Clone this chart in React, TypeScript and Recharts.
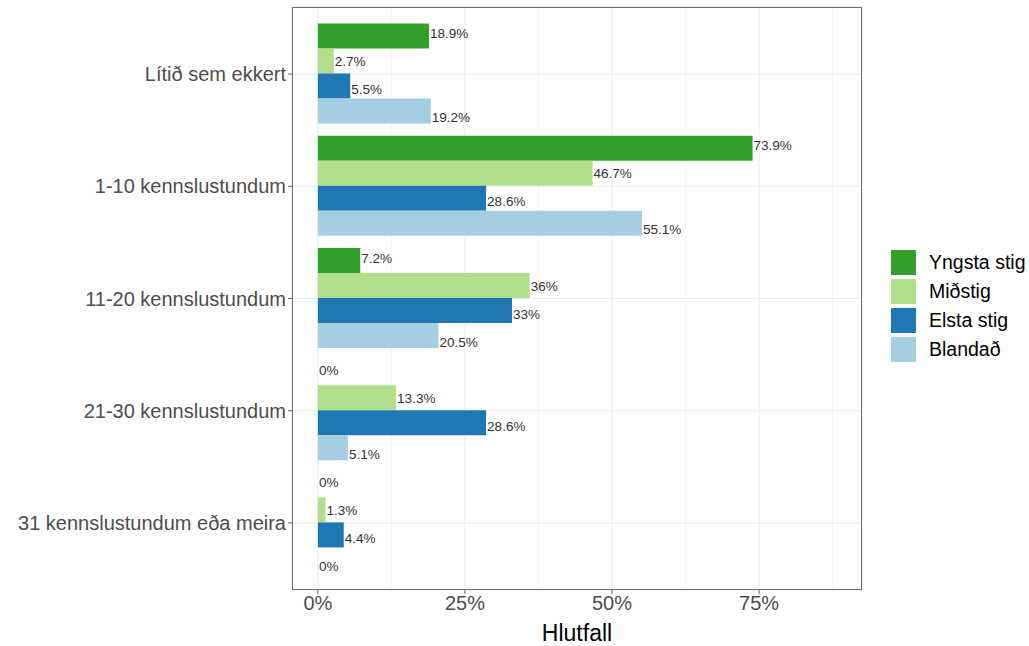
import { BarChart, Bar, XAxis, YAxis, CartesianGrid, LabelList } from "recharts";

const categories = [
  "Lítið sem ekkert",
  "1-10 kennslustundum",
  "11-20 kennslustundum",
  "21-30 kennslustundum",
  "31 kennslustundum eða meira",
];
const yngsta = [18.9, 73.9, 7.2, 0, 0];
const midstig = [2.7, 46.7, 36, 13.3, 1.3];
const elsta = [5.5, 28.6, 33, 28.6, 4.4];
const blandad = [19.2, 55.1, 20.5, 5.1, 0];
const xTicks = [0, 25, 50, 75];
const minorTicks = [12.5, 37.5, 62.5, 87.5];

const SERIES = [
  { key: "yngsta", name: "Yngsta stig", color: "#33a02c", values: yngsta },
  { key: "midstig", name: "Miðstig", color: "#b2df8a", values: midstig },
  { key: "elsta", name: "Elsta stig", color: "#1f78b4", values: elsta },
  { key: "blandad", name: "Blandað", color: "#a6cee3", values: blandad },
];

const data = categories.map((cat, i) => {
  const row: Record<string, string | number> = { cat };
  SERIES.forEach((s) => (row[s.key] = s.values[i]));
  return row;
});

const FONT = '"Liberation Sans", Arial, sans-serif';
const DOMAIN: [number, number] = [-4.4, 92.5];

// panel edges in page pixels
const PANEL = { left: 292, top: 7, right: 862, bottom: 590 };

// text labels are dodged a bit wider than the bars in the original
const labelFor = (idx: number) => (props: any) => {
  const { x, y, width, height, value } = props;
  const dy = 2 + (idx - 1.5) * 3;
  return (
    <text
      x={Number(x) + Number(width) + 1}
      y={Number(y) + Number(height) / 2 + dy}
      dominantBaseline="central"
      fontSize={13.5}
      fill="#333"
      fontFamily={FONT}
    >
      {`${value}%`}
    </text>
  );
};

export default function App() {
  return (
    <div style={{ position: "absolute", left: 0, top: 0, width: 1029, height: 646, fontFamily: FONT, background: "#fff" }}>
      <BarChart
        width={1029}
        height={646}
        data={data}
        layout="vertical"
        margin={{ top: PANEL.top, right: 1029 - PANEL.right, left: 0, bottom: 0 }}
        barCategoryGap="5%"
        barGap={0}
      >
        {/* minor grid first so it sits under the major one */}
        <CartesianGrid xAxisId="minor" horizontal={false} stroke="#f2f2f2" strokeWidth={0.7} />
        <CartesianGrid stroke="#ebebeb" strokeWidth={1.1} />
        <XAxis xAxisId="minor" type="number" domain={DOMAIN} ticks={minorTicks} allowDataOverflow hide />
        <XAxis
          type="number"
          domain={DOMAIN}
          ticks={xTicks}
          allowDataOverflow
          tickFormatter={(v) => `${v}%`}
          axisLine={false}
          tickLine={{ stroke: "#666" }}
          tickSize={4}
          tick={{ fontSize: 20, fill: "#4d4d4d", fontFamily: FONT, dy: 0 }}
          height={646 - PANEL.bottom}
          label={{ value: "Hlutfall", position: "insideBottom", offset: 5, fontSize: 23, fill: "#000", fontFamily: FONT }}
        />
        <YAxis
          type="category"
          dataKey="cat"
          width={PANEL.left}
          axisLine={false}
          tickLine={{ stroke: "#666" }}
          tickSize={4}
          padding={{ top: 11, bottom: 11 }}
          tick={{ fontSize: 20, fill: "#4d4d4d", fontFamily: FONT }}
        />
        {SERIES.map((s, idx) => (
          <Bar key={s.key} dataKey={s.key} name={s.name} fill={s.color} minPointSize={0.01} isAnimationActive={false}>
            <LabelList dataKey={s.key} content={labelFor(idx)} />
          </Bar>
        ))}
      </BarChart>
      <div
        style={{
          position: "absolute",
          left: PANEL.left,
          top: PANEL.top,
          width: PANEL.right - PANEL.left,
          height: PANEL.bottom - PANEL.top,
          border: "1px solid #6e6e6e",
          boxSizing: "border-box",
          pointerEvents: "none",
        }}
      />
      <div style={{ position: "absolute", left: 890, top: 248 }}>
        {SERIES.map((s) => (
          <div key={s.key} style={{ display: "flex", alignItems: "center", height: 29 }}>
            <div style={{ width: 27, height: 27, background: s.color, border: "1px solid #fff", boxSizing: "border-box" }} />
            <span style={{ marginLeft: 12, fontSize: 19.5, color: "#000" }}>{s.name}</span>
          </div>
        ))}
      </div>
    </div>
  );
}
